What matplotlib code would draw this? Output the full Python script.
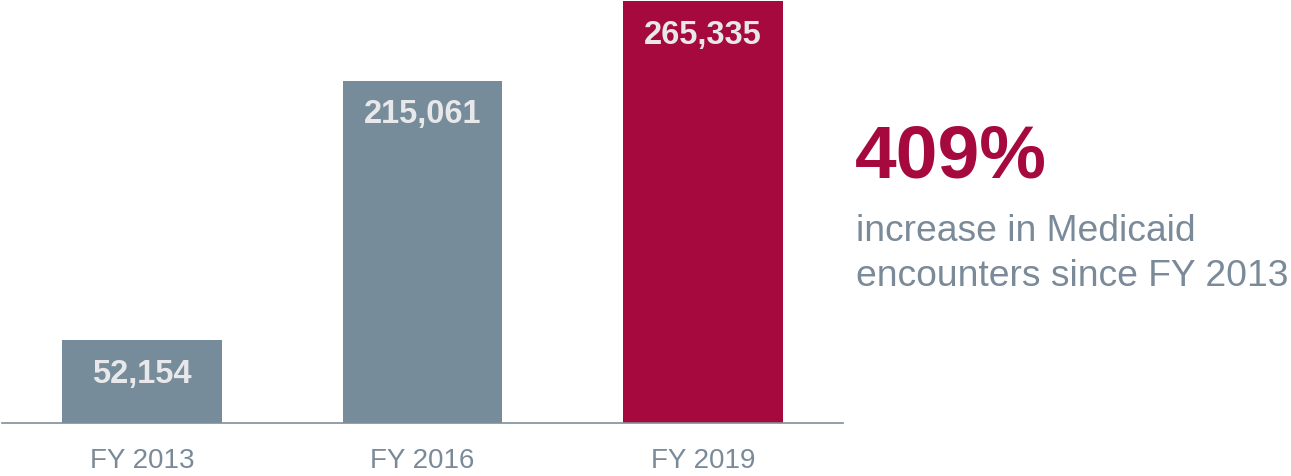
import matplotlib.pyplot as plt

years = ["FY 2013", "FY 2016", "FY 2019"]
encounters = [52154, 215061, 265335]
bar_colors = ["#778c9a", "#778c9a", "#a6093d"]
headline = "409%"
subline = "increase in Medicaid\nencounters since FY 2013"

plt.rcParams['font.family'] = ['Liberation Sans', 'DejaVu Sans']

fig = plt.figure(figsize=(12.91, 4.76), dpi=100)
ax = fig.add_axes([0.0014, 1 - 423 / 476, 841.5 / 1291, 423 / 476])

x = range(len(years))
ax.bar(x, encounters, width=0.57, color=bar_colors)
for i, v in enumerate(encounters):
    ax.annotate(f"{v:,}", xy=(i, v), xytext=(0, -24.5), textcoords='offset points',
                ha='center', va='center', fontsize=23.5, fontweight='bold',
                color='#e8e8ea')

ax.set_xlim(-0.5, 2.5)
ax.set_ylim(0, 265964)
ax.set_xticks(list(x))
ax.set_xticklabels(years, fontsize=20, color='#7a8a98')
ax.tick_params(axis='x', length=0, pad=18)
ax.set_yticks([])
for side in ['top', 'right', 'left']:
    ax.spines[side].set_visible(False)
ax.spines['bottom'].set_color('#7f8f9c')
ax.spines['bottom'].set_linewidth(1.2)

fig.text(855 / 1291, 1 - 158 / 476, headline, fontsize=54, fontweight='bold',
         color='#a6093d', ha='left', va='center')
fig.text(856 / 1291, 1 - 254 / 476, subline, fontsize=26.8, color='#7a8a98',
         ha='left', va='center', linespacing=1.35)

fig.savefig("out.png", dpi=100)
